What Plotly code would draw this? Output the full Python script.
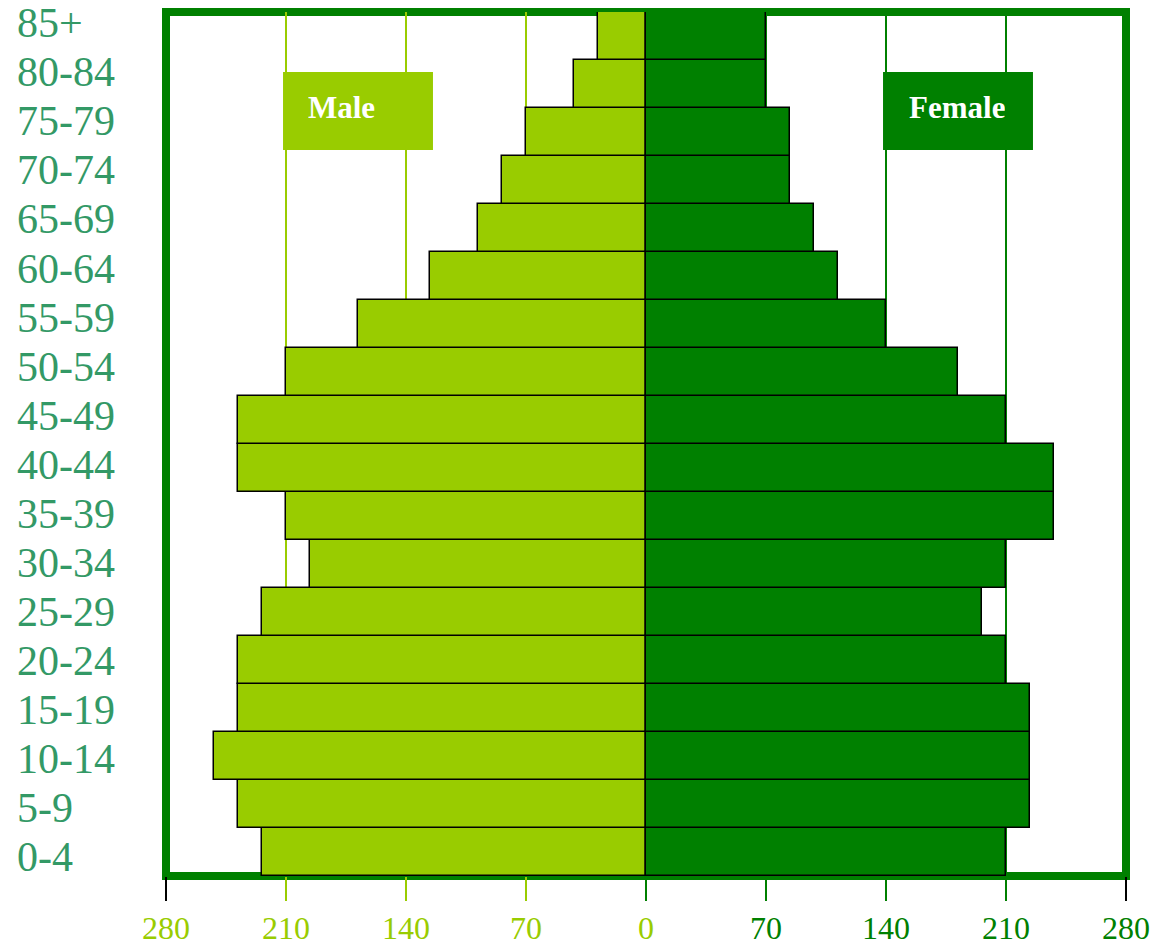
import plotly.graph_objects as go

# Age groups, youngest first (bottom of the pyramid)
age_groups = ["0-4", "5-9", "10-14", "15-19", "20-24", "25-29", "30-34", "35-39",
              "40-44", "45-49", "50-54", "55-59", "60-64", "65-69", "70-74",
              "75-79", "80-84", "85+"]
male = [224, 238, 252, 238, 238, 224, 196, 210, 238, 238, 210, 168, 126, 98, 84, 70, 42, 28]
female = [210, 224, 224, 224, 210, 196, 210, 238, 238, 210, 182, 140, 112, 98, 84, 84, 70, 70]

left_ticks = [-280, -210, -140, -70, 0]
left_tick_text = ["280", "210", "140", "70", "0"]
right_ticks = [0, 70, 140, 210, 280]
right_tick_text = ["", "70", "140", "210", "280"]
edge_ticks = [-280, 280]

MALE_COLOR = "#99CC00"
FEMALE_COLOR = "#008000"
LABEL_COLOR = "#339966"
FONT = "Liberation Serif"
X_RANGE = [-280, 280]

fig = go.Figure()
fig.add_trace(go.Bar(
    y=age_groups, x=[-v for v in male], orientation="h", name="Male",
    marker=dict(color=MALE_COLOR, line=dict(color="black", width=1.5)),
    hoverinfo="skip",
))
fig.add_trace(go.Bar(
    y=age_groups, x=female, orientation="h", name="Female",
    marker=dict(color=FEMALE_COLOR, line=dict(color="black", width=1.5)),
    hoverinfo="skip",
))

tick_font = dict(family=FONT, size=32)
fig.update_layout(
    template="none",
    width=1160, height=952,
    margin=dict(l=166, r=34, t=12, b=76),
    paper_bgcolor="white", plot_bgcolor="rgba(0,0,0,0)",
    barmode="overlay", bargap=0, showlegend=False,
    xaxis=dict(range=X_RANGE, tickvals=left_ticks, ticktext=left_tick_text,
               tickfont=dict(tick_font, color=MALE_COLOR), ticks="outside",
               ticklen=24, tickwidth=2, tickcolor=MALE_COLOR,
               showgrid=True, gridcolor=MALE_COLOR, gridwidth=2,
               zeroline=False, showline=False, automargin=False),
    xaxis2=dict(range=X_RANGE, overlaying="x", anchor="y", side="bottom",
                tickvals=right_ticks, ticktext=right_tick_text,
                tickfont=dict(tick_font, color=FEMALE_COLOR), ticks="outside",
                ticklen=24, tickwidth=2, tickcolor=FEMALE_COLOR,
                showgrid=True, gridcolor=FEMALE_COLOR, gridwidth=2,
                zeroline=False, showline=False, automargin=False),
    xaxis3=dict(range=X_RANGE, overlaying="x", anchor="y", side="bottom",
                tickvals=edge_ticks, showticklabels=False, ticks="outside",
                ticklen=24, tickwidth=2, tickcolor="black",
                showgrid=False, zeroline=False, showline=False, automargin=False),
    yaxis=dict(range=[-0.5, len(age_groups) - 0.5], showticklabels=False,
               showgrid=False, zeroline=False, ticks="", automargin=False),
    # label track for the age-group names
    yaxis2=dict(range=[-0.3874, 17.231], overlaying="y", anchor="x",
                showticklabels=False, showgrid=False, zeroline=False, ticks="",
                automargin=False),
)

# empty traces so the extra axes are built
for ax in ["x2", "x3"]:
    fig.add_trace(go.Scatter(x=[], y=[], xaxis=ax, yaxis="y", showlegend=False))
fig.add_trace(go.Scatter(x=[], y=[], xaxis="x", yaxis="y2", showlegend=False))

# plot frame
fig.add_shape(type="rect", xref="paper", yref="paper", x0=0, x1=1, y0=0, y1=1,
              line=dict(color=FEMALE_COLOR, width=8), fillcolor="rgba(0,0,0,0)",
              layer="below")

# age-group names, left aligned
for i, name in enumerate(age_groups):
    fig.add_annotation(text=name, xref="paper", yref="y2", x=-0.157, y=i,
                       xanchor="left", yanchor="middle", showarrow=False,
                       font=dict(family=FONT, size=42, color=LABEL_COLOR))

# series key boxes
key_boxes = [("Male", MALE_COLOR, 0.1219, 0.2781, 0.146),
             ("Female", FEMALE_COLOR, 0.7469, 0.9031, 0.772)]
for label, color, bx0, bx1, tx in key_boxes:
    fig.add_shape(type="rect", xref="paper", yref="paper", x0=bx0, x1=bx1,
                  y0=0.8403, y1=0.9306, fillcolor=color, line=dict(width=0),
                  layer="above")
    fig.add_annotation(text="<b>%s</b>" % label, xref="paper", yref="paper",
                       x=tx, y=0.889, xanchor="left", yanchor="middle",
                       width=96, align="left", showarrow=False,
                       font=dict(family=FONT, size=31, color="white"))

fig.write_html("out.html")
